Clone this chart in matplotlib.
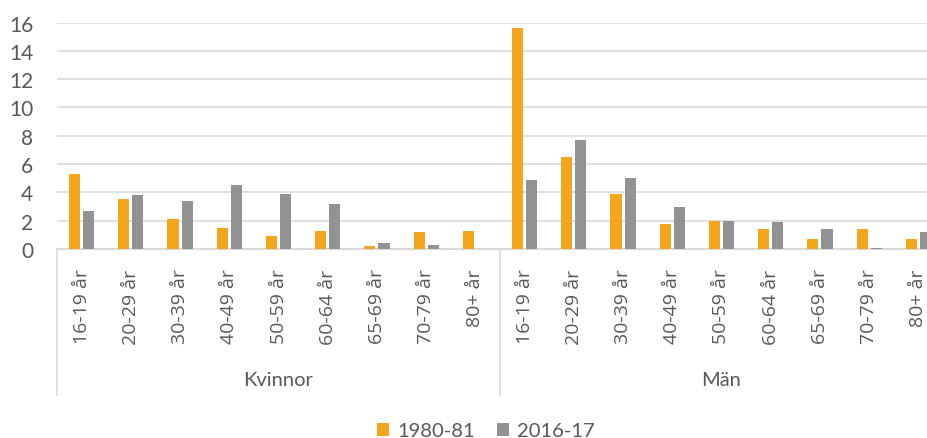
import matplotlib.pyplot as plt
import numpy as np

plt.rcParams['font.family'] = ['Lato', 'DejaVu Sans']

groups = ["Kvinnor", "Män"]
ages = ["16-19 år", "20-29 år", "30-39 år", "40-49 år", "50-59 år",
        "60-64 år", "65-69 år", "70-79 år", "80+ år"]
series_names = ["1980-81", "2016-17"]
kvinnor_1980 = [5.3, 3.5, 2.1, 1.5, 0.9, 1.3, 0.2, 1.2, 1.3]
kvinnor_2016 = [2.7, 3.8, 3.4, 4.5, 3.9, 3.2, 0.4, 0.3, np.nan]
man_1980 = [15.6, 6.5, 3.9, 1.8, 2.0, 1.4, 0.7, 1.4, 0.7]
man_2016 = [4.9, 7.7, 5.0, 3.0, 2.0, 1.9, 1.4, 0.1, 1.2]

orange = '#F5A51B'
grey = '#929292'
text_c = '#595959'
line_c = '#D9D9D9'

v1980 = np.array(kvinnor_1980 + man_1980)
v2016 = np.array(kvinnor_2016 + man_2016)
labels = ages + ages
x = np.arange(len(labels))

fig = plt.figure(figsize=(9.28, 4.39), dpi=100)
# axes spans past the right edge, like the cropped original
ax = fig.add_axes([57 / 928, 1 - 250 / 439, 886 / 928, 226.5 / 439])

w = 0.225
ax.bar(x - 0.143, v1980, w, color=orange, label=series_names[0], zorder=3)
ax.bar(x + 0.143, v2016, w, color=grey, label=series_names[1], zorder=3)

ax.set_xlim(-0.5, len(labels) - 0.5)
ax.set_ylim(0, 16)
ax.set_yticks(np.arange(0, 17, 2))
ax.yaxis.grid(True, color=line_c, lw=1.2, zorder=0)
ax.set_axisbelow(True)
for s in ['top', 'right', 'left']:
    ax.spines[s].set_visible(False)
ax.spines['bottom'].set_color(line_c)
ax.spines['bottom'].set_linewidth(1.5)

ax.set_xticks(x, labels, rotation=90, family=['Open Sans', 'DejaVu Sans'])
ax.tick_params(axis='x', length=0, pad=14, labelsize=14, labelcolor=text_c)
ax.tick_params(axis='y', length=0, pad=17, labelsize=15, labelcolor=text_c)

trans = ax.get_xaxis_transform()
for xb in [-0.5, 8.5, 17.5]:
    ax.plot([xb, xb], [0, -0.645], transform=trans, color=line_c, lw=1.2,
            clip_on=False)
for i, g in enumerate(groups):
    ax.text(4 + 9 * i, -0.578, g, transform=trans, ha='center', va='center',
            fontsize=14.5, color=text_c)

fig.legend(loc='center', bbox_to_anchor=(486 / 928, 1 - 432 / 439), ncol=2,
           frameon=False, fontsize=14.5, labelcolor=text_c, handlelength=0.6,
           handleheight=0.65, handletextpad=0.4, columnspacing=1.1,
           borderpad=0)

fig.savefig('out.png', dpi=100, facecolor='white')
